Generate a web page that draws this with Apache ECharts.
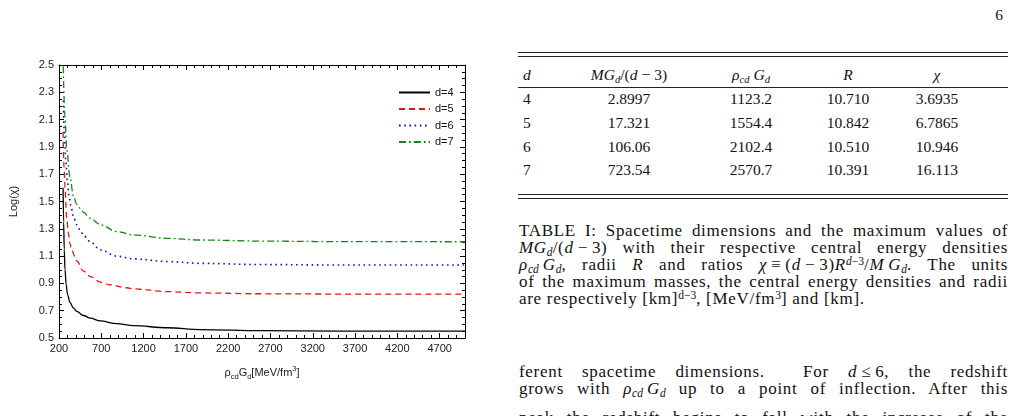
<!DOCTYPE html>
<html>
<head>
<meta charset="utf-8">
<script src="https://cdn.jsdelivr.net/npm/echarts@6/dist/echarts.min.js"></script>
<style>
  html, body { margin:0; padding:0; width:1016px; height:416px; overflow:hidden; background:#fff; }
  #chart { position:absolute; left:0; top:0; width:490px; height:416px; }
  .serif { font-family:'Liberation Serif','DejaVu Serif',serif; color:#111; }
  .abs { position:absolute; }
  .hline { position:absolute; left:518px; width:490px; height:0; border-top:1px solid #222; }
  .row { position:absolute; left:518px; width:490px; height:20px; line-height:20px; font-size:15.5px; }
  .row > span { position:absolute; top:0; transform:translateX(-50%); white-space:nowrap; }
  .row > span.first { transform:none; }
  .cap { position:absolute; left:519px; width:489px; font-size:17px; line-height:17px; letter-spacing:0.7px; }
  .cap div { height:17px; text-align:justify; text-align-last:justify; white-space:normal; }
  .cap div.last { text-align:left; text-align-last:left; }
  sub, sup { font-size:68%; line-height:0; position:relative; vertical-align:baseline; letter-spacing:0; }
  sub { top:0.3em; }
  sup { top:-0.45em; }
  .op { margin:0 4px; }
  .th { margin-left:4px; }
</style>
</head>
<body>
<div id="chart"></div>

<div class="abs serif" style="left:960px;width:43px;top:6px;font-size:15.5px;line-height:17px;text-align:right;">6</div>

<div class="hline" style="top:52px;"></div>
<div class="hline" style="top:56px;"></div>
<div class="row serif" style="top:65px;">
  <span class="first" style="left:5px;"><i>d</i></span>
  <span style="left:111px;"><i>MG</i><sub><i>d</i></sub>/(<i>d</i><span class="op">−</span>3)</span>
  <span style="left:233px;"><i>ρ</i><sub><i>cd</i></sub><i class="th">G</i><sub><i>d</i></sub></span>
  <span style="left:330px;"><i>R</i></span>
  <span style="left:419px;"><i>χ</i></span>
</div>
<div class="hline" style="top:87px;"></div>
<div id="tbody"></div>
<div class="hline" style="top:194px;"></div>
<div class="hline" style="top:198px;"></div>

<div class="cap serif" style="top:222px;">
  <div>TABLE I: Spacetime dimensions and the maximum values of</div>
  <div><i>MG</i><sub><i>d</i></sub>/(<i>d</i><span class="op">−</span>3) with their respective central energy densities</div>
  <div><i>ρ</i><sub><i>cd</i></sub><i class="th">G</i><sub><i>d</i></sub>, radii <i>R</i> and ratios <i>χ</i><span class="op">≡</span>(<i>d</i><span class="op">−</span>3)<i>R</i><sup><i>d</i>−3</sup>/<i>M</i><i class="th">G</i><sub><i>d</i></sub>. The units</div>
  <div>of the maximum masses, the central energy densities and radii</div>
  <div class="last">are respectively [km]<sup>d−3</sup>, [MeV/fm<sup>3</sup>] and [km].</div>
</div>

<div class="cap serif" style="top:363px;">
  <div>ferent spacetime dimensions. &nbsp;For <i>d</i><span class="op">≤</span>6, the redshift</div>
  <div>grows with <i>ρ</i><sub><i>cd</i></sub><i class="th">G</i><sub><i>d</i></sub> up to a point of inflection. After this</div>
</div>
<div class="cap serif" style="top:409px;">
  <div>peak the redshift begins to fall with the increase of the</div>
</div>

<script>
// ---- table data ----
const tableD     = ['4', '5', '6', '7'];
const tableMass  = ['2.8997', '17.321', '106.06', '723.54'];
const tableRho   = ['1123.2', '1554.4', '2102.4', '2570.7'];
const tableR     = ['10.710', '10.842', '10.510', '10.391'];
const tableChi   = ['3.6935', '6.7865', '10.946', '16.113'];

// ---- chart data: [rho_cd G_d, Log(chi)] ----
const seriesNames = ['d=4', 'd=5', 'd=6', 'd=7'];
const d4 = [[248,1.60],[255,1.35],[262,1.15],[271,1.00],[285,0.89],[300,0.82],[330,0.76],[370,0.72],[410,0.695],[490,0.665],[570,0.645],[690,0.625],[880,0.605],[1080,0.59],[1480,0.575],[1870,0.562],[2580,0.554],[3500,0.551],[5000,0.55]];
const d5 = [[248,2.01],[260,1.75],[271,1.60],[291,1.38],[310,1.27],[330,1.19],[350,1.14],[410,1.065],[490,0.99],[570,0.95],[690,0.91],[800,0.89],[1000,0.868],[1080,0.86],[1480,0.84],[1870,0.83],[2580,0.824],[3500,0.822],[5000,0.822]];
const d6 = [[250,2.24],[265,1.98],[280,1.80],[300,1.64],[320,1.54],[340,1.47],[370,1.39],[410,1.33],[450,1.29],[490,1.25],[570,1.205],[690,1.145],[880,1.10],[1080,1.08],[1480,1.06],[1870,1.047],[2580,1.038],[3500,1.035],[5000,1.035]];
const d7 = [[250,2.49],[271,2.12],[291,1.88],[330,1.68],[370,1.54],[410,1.48],[450,1.45],[490,1.42],[570,1.377],[690,1.33],[880,1.28],[1080,1.255],[1480,1.23],[1870,1.218],[2580,1.21],[3500,1.206],[5000,1.205]];

// ---- axis ticks ----
const xMajorTicks = [200,700,1200,1700,2200,2700,3200,3700,4200,4700];
const yMajorTicks = [0.5,0.7,0.9,1.1,1.3,1.5,1.7,1.9,2.1,2.3,2.5];
const xRange = [200, 5000];
const yRange = [0.5, 2.5];
const xMinorStep = 100;
const yMinorStep = 0.05;

// build table rows
(function(){
  const tb = document.getElementById('tbody');
  const tops = [89, 112.5, 136.5, 160];
  const cols = [5, 111, 233, 330, 419];
  for (let i = 0; i < tableD.length; i++) {
    const r = document.createElement('div');
    r.className = 'row serif';
    r.style.top = tops[i] + 'px';
    const vals = [tableD[i], tableMass[i], tableRho[i], tableR[i], tableChi[i]];
    vals.forEach((v, j) => {
      const s = document.createElement('span');
      if (j === 0) s.className = 'first';
      s.style.left = cols[j] + 'px';
      s.textContent = v;
      r.appendChild(s);
    });
    tb.appendChild(r);
  }
})();

const FONT = 'Liberation Sans, Arial, sans-serif';
const lblStyle = { fontFamily: FONT, fontSize: 11, color: '#1a1a1a' };
const axLine = { show: true, onZero: false, lineStyle: { color: '#000', width: 1 } };

function xAx(pos, kind, labels) {
  const a = {
    type: 'value', min: xRange[0], max: xRange[1], position: pos, gridIndex: 0,
    splitLine: { show: false },
    axisLine: kind === 'minor' ? axLine : { show: false, onZero: false },
    axisLabel: { show: false },
    axisTick: { show: true, inside: true, length: kind === 'minor' ? 3 : 5, lineStyle: { color: '#000', width: 1 } }
  };
  if (kind === 'minor') {
    a.interval = xMinorStep;
    if (labels) a.axisLabel = { show: true, customValues: xMajorTicks, margin: 5, formatter: v => String(v), ...lblStyle };
  } else {
    a.axisTick.customValues = xMajorTicks;
    a.axisLabel = { show: false, customValues: xMajorTicks };
  }
  if (labels) {
    a.name = '{a|ρ}{b|cd}{a|G}{b|d}{a|[MeV/fm}{c|3}{a|]}';
    a.nameLocation = 'middle';
    a.nameGap = 27;
    a.nameTextStyle = {
      fontFamily: FONT, fontSize: 11, color: '#1a1a1a',
      rich: {
        a: { fontFamily: FONT, fontSize: 11, color: '#1a1a1a', lineHeight: 16, verticalAlign: 'middle' },
        b: { fontFamily: FONT, fontSize: 7.5, color: '#1a1a1a', lineHeight: 9, verticalAlign: 'bottom' },
        c: { fontFamily: FONT, fontSize: 7.5, color: '#1a1a1a', lineHeight: 9, verticalAlign: 'top' }
      }
    };
  }
  return a;
}
function yAx(pos, kind, labels) {
  const a = {
    type: 'value', min: yRange[0], max: yRange[1], position: pos, gridIndex: 0,
    splitLine: { show: false },
    axisLine: kind === 'minor' ? axLine : { show: false, onZero: false },
    axisLabel: { show: false },
    axisTick: { show: true, inside: true, length: kind === 'minor' ? 3 : 5, lineStyle: { color: '#000', width: 1 } }
  };
  if (kind === 'minor') {
    a.interval = yMinorStep;
    if (labels) a.axisLabel = { show: true, customValues: yMajorTicks, margin: 5, formatter: v => v.toFixed(1), ...lblStyle };
  } else {
    a.axisTick.customValues = yMajorTicks;
    a.axisLabel = { show: false, customValues: yMajorTicks };
  }
  if (labels) {
    a.name = 'Log(χ)';
    a.nameLocation = 'middle';
    a.nameGap = 40;
    a.nameRotate = 90;
    a.nameTextStyle = { ...lblStyle };
  }
  return a;
}

const styles = [
  { color: '#000000', type: 'solid', width: 1.3 },
  { color: '#ee1111', type: [6, 4], width: 1.3 },
  { color: '#1414a8', type: [1.6, 3.6], width: 1.6 },
  { color: '#128a12', type: [7, 3, 1.8, 3], width: 1.3 }
];
const datas = [d4, d5, d6, d7];

const chart = echarts.init(document.getElementById('chart'), null, { renderer: 'canvas' });
chart.setOption({
  animation: false,
  backgroundColor: '#fff',
  grid: { left: 59, top: 65, width: 406, height: 273, containLabel: false, outerBoundsMode: 'none' },
  legend: {
    left: 393, top: 82, orient: 'vertical', itemWidth: 31, itemHeight: 10, itemGap: 5.5,
    data: seriesNames,
    itemStyle: { opacity: 0 },
    textStyle: { fontFamily: FONT, fontSize: 11, color: '#111' }
  },
  xAxis: [xAx('bottom', 'minor', true), xAx('bottom', 'major', false), xAx('top', 'minor', false), xAx('top', 'major', false)],
  yAxis: [yAx('left', 'minor', true), yAx('left', 'major', false), yAx('right', 'minor', false), yAx('right', 'major', false)],
  series: datas.map((d, i) => ({
    name: seriesNames[i], type: 'line', xAxisIndex: 0, yAxisIndex: 0,
    data: d, showSymbol: false, symbol: 'none', smooth: 0.35, smoothMonotone: 'x',
    lineStyle: styles[i], itemStyle: { color: styles[i].color }, clip: true
  }))
});
</script>
</body>
</html>
